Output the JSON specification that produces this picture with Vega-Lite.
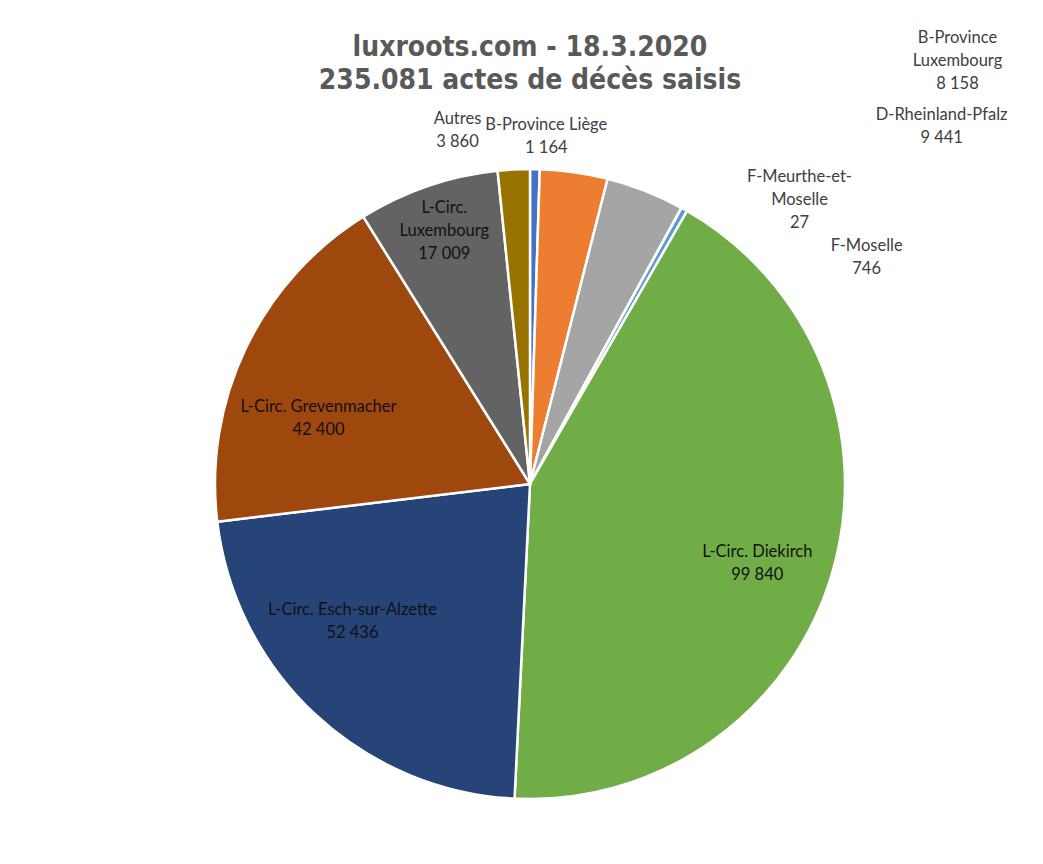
{
  "$schema": "https://vega.github.io/schema/vega-lite/v6.json",
  "autosize": "none",
  "width": 1000,
  "height": 740,
  "padding": {"left": 30, "top": 114, "right": 0, "bottom": 0},
  "background": "white",
  "title": {
    "text": ["luxroots.com - 18.3.2020", "235.081 actes de décès saisis"],
    "font": "DejaVu Sans Condensed",
    "fontSize": 28,
    "fontWeight": "bold",
    "color": "#595959",
    "anchor": "middle",
    "lineHeight": 33,
    "offset": 0,
    "dy": 68
  },
  "view": {"stroke": null},
  "data": {
    "values": [
      {"i": 1, "region": "B-Province Liège", "count": 1164, "label": "B-Province Liège\n1 164"},
      {"i": 2, "region": "B-Province Luxembourg", "count": 8158, "label": "B-Province\nLuxembourg\n8 158"},
      {"i": 3, "region": "D-Rheinland-Pfalz", "count": 9441, "label": "D-Rheinland-Pfalz\n9 441"},
      {"i": 4, "region": "F-Meurthe-et-Moselle", "count": 27, "label": "F-Meurthe-et-\nMoselle\n27"},
      {"i": 5, "region": "F-Moselle", "count": 746, "label": "F-Moselle\n746"},
      {"i": 6, "region": "L-Circ. Diekirch", "count": 99840, "label": "L-Circ. Diekirch\n99 840"},
      {"i": 7, "region": "L-Circ. Esch-sur-Alzette", "count": 52436, "label": "L-Circ. Esch-sur-Alzette\n52 436"},
      {"i": 8, "region": "L-Circ. Grevenmacher", "count": 42400, "label": "L-Circ. Grevenmacher\n42 400"},
      {"i": 9, "region": "L-Circ. Luxembourg", "count": 17009, "label": "L-Circ.\nLuxembourg\n17 009"},
      {"i": 10, "region": "Autres", "count": 3860, "label": "Autres\n3 860"}
    ]
  },
  "encoding": {
    "theta": {"field": "count", "type": "quantitative", "stack": true},
    "order": {"field": "i", "type": "quantitative", "sort": "ascending"}
  },
  "layer": [
    {
      "mark": {"type": "arc", "outerRadius": 315, "stroke": "white", "strokeWidth": 2.5},
      "encoding": {
        "color": {
          "field": "region",
          "type": "nominal",
          "legend": null,
          "scale": {
            "domain": ["B-Province Liège", "B-Province Luxembourg", "D-Rheinland-Pfalz", "F-Meurthe-et-Moselle", "F-Moselle", "L-Circ. Diekirch", "L-Circ. Esch-sur-Alzette", "L-Circ. Grevenmacher", "L-Circ. Luxembourg", "Autres"],
            "range": ["#4472C4", "#ED7D31", "#A5A5A5", "#FFC000", "#5B9BD5", "#70AD47", "#264478", "#9E480E", "#636363", "#997300"]
          }
        }
      }
    },
    {
      "mark": {"type": "text", "radius": 240, "dx": -3, "dy": 0, "font": "Lato", "fontSize": 16.5, "lineHeight": 23, "lineBreak": "\n", "baseline": "middle", "align": "center", "color": "#111111"},
      "encoding": {"text": {"condition": {"test": "datum.i == 6", "field": "label"}, "value": ""}}
    },
    {
      "mark": {"type": "text", "radius": 240, "dx": -14, "dy": -50, "font": "Lato", "fontSize": 16.5, "lineHeight": 23, "lineBreak": "\n", "baseline": "middle", "align": "center", "color": "#111111"},
      "encoding": {"text": {"condition": {"test": "datum.i == 7", "field": "label"}, "value": ""}}
    },
    {
      "mark": {"type": "text", "radius": 240, "dx": 5, "dy": 27, "font": "Lato", "fontSize": 16.5, "lineHeight": 23, "lineBreak": "\n", "baseline": "middle", "align": "center", "color": "#111111"},
      "encoding": {"text": {"condition": {"test": "datum.i == 8", "field": "label"}, "value": ""}}
    },
    {
      "mark": {"type": "text", "radius": 264, "dx": 0, "dy": -26, "font": "Lato", "fontSize": 16.5, "lineHeight": 23, "lineBreak": "\n", "baseline": "middle", "align": "center", "color": "#111111"},
      "encoding": {"text": {"condition": {"test": "datum.i == 9", "field": "label"}, "value": ""}}
    },
    {
      "mark": {"type": "text", "radius": 340, "dx": -55, "dy": -25, "font": "Lato", "fontSize": 16.5, "lineHeight": 23, "lineBreak": "\n", "baseline": "middle", "align": "center", "color": "#404040"},
      "encoding": {"text": {"condition": {"test": "datum.i == 10", "field": "label"}, "value": ""}}
    },
    {
      "mark": {"type": "text", "radius": 340, "dx": 11, "dy": -19, "font": "Lato", "fontSize": 16.5, "lineHeight": 23, "lineBreak": "\n", "baseline": "middle", "align": "center", "color": "#404040"},
      "encoding": {"text": {"condition": {"test": "datum.i == 1", "field": "label"}, "value": ""}}
    },
    {
      "mark": {"type": "text", "radius": 340, "dx": 380, "dy": -109, "font": "Lato", "fontSize": 16.5, "lineHeight": 23, "lineBreak": "\n", "baseline": "middle", "align": "center", "color": "#404040"},
      "encoding": {"text": {"condition": {"test": "datum.i == 2", "field": "label"}, "value": ""}}
    },
    {
      "mark": {"type": "text", "radius": 340, "dx": 287, "dy": -53, "font": "Lato", "fontSize": 16.5, "lineHeight": 23, "lineBreak": "\n", "baseline": "middle", "align": "center", "color": "#404040"},
      "encoding": {"text": {"condition": {"test": "datum.i == 3", "field": "label"}, "value": ""}}
    },
    {
      "mark": {"type": "text", "radius": 340, "dx": 106, "dy": -9, "font": "Lato", "fontSize": 16.5, "lineHeight": 23, "lineBreak": "\n", "baseline": "middle", "align": "center", "color": "#404040"},
      "encoding": {"text": {"condition": {"test": "datum.i == 4", "field": "label"}, "value": ""}}
    },
    {
      "mark": {"type": "text", "radius": 340, "dx": 170, "dy": 58, "font": "Lato", "fontSize": 16.5, "lineHeight": 23, "lineBreak": "\n", "baseline": "middle", "align": "center", "color": "#404040"},
      "encoding": {"text": {"condition": {"test": "datum.i == 5", "field": "label"}, "value": ""}}
    }
  ]
}
